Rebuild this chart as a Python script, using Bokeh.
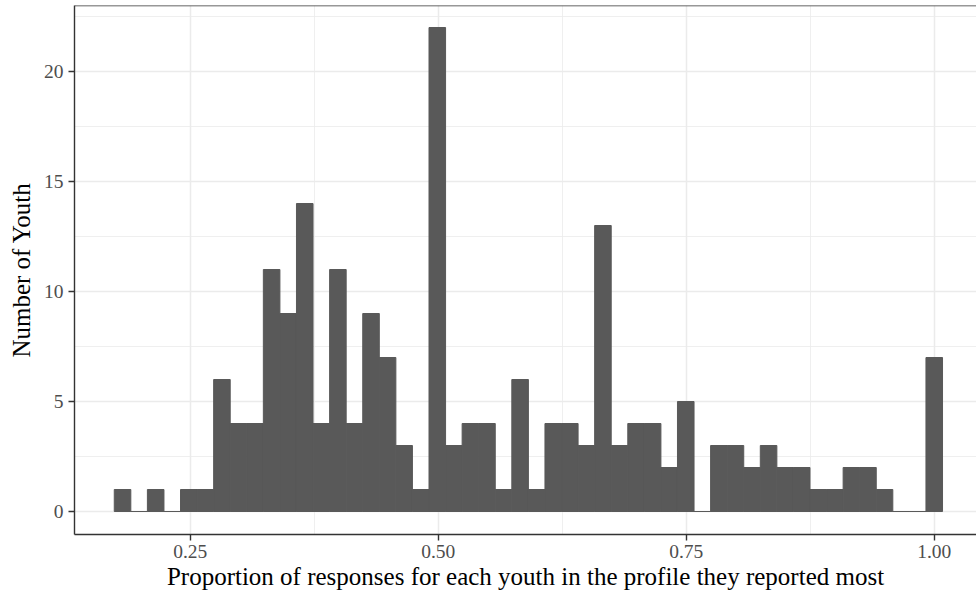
import numpy as np
from bokeh.plotting import figure
from bokeh.models import ColumnDataSource, FixedTicker, Range1d, Span, PrintfTickFormatter
from bokeh.embed import file_html
from bokeh.resources import INLINE

# Histogram data: 50 bins, first bin centred at x_first, last at x_last
x_first = 0.1818
x_last = 1.0
counts = [1, 0, 1, 0, 1, 1, 6, 4, 4, 11,
          9, 14, 4, 11, 4, 9, 7, 3, 1, 22,
          3, 4, 4, 1, 6, 1, 4, 4, 3, 13,
          3, 4, 4, 2, 5, 0, 3, 3, 2, 3,
          2, 2, 1, 1, 2, 2, 1, 0, 0, 7]
x_ticks = [0.25, 0.50, 0.75, 1.00]
x_minor = [0.375, 0.625, 0.875]
y_ticks = [0, 5, 10, 15, 20]
y_minor = [2.5, 7.5, 12.5, 17.5, 22.5]
x_title = "Proportion of responses for each youth in the profile they reported most"
y_title = "Number of Youth"

n = len(counts)
w = (x_last - x_first) / (n - 1)
centers = x_first + w * np.arange(n)
left = centers - w / 2
right = centers + w / 2
cnt = np.array(counts, dtype=float)

src = ColumnDataSource(dict(left=left, right=right, top=cnt, bottom=np.zeros(n)))
zero = cnt == 0
zsrc = ColumnDataSource(dict(x0=left[zero], x1=right[zero], y=np.zeros(zero.sum())))

FONT = "Liberation Serif"
BORDER = "#333333"
GRID = "#EBEBEB"
Y_TOP = 23.0

p = figure(width=976, height=598, output_backend="svg", toolbar_location=None,
           x_range=Range1d(0.13337, 1.0426), y_range=Range1d(-1.045, Y_TOP),
           min_border_left=74, min_border_right=0, min_border_top=5, min_border_bottom=64)
p.outline_line_color = None
p.background_fill_color = "white"
p.border_fill_color = "white"

p.quad(left="left", right="right", top="top", bottom="bottom", source=src,
       fill_color="#595959", line_color="#595959", line_width=1.0)
p.segment(x0="x0", x1="x1", y0="y", y1="y", source=zsrc, line_color="#595959", line_width=0.8)

p.xaxis.ticker = FixedTicker(ticks=x_ticks, minor_ticks=x_minor)
p.yaxis.ticker = FixedTicker(ticks=y_ticks, minor_ticks=y_minor)
p.xaxis.formatter = PrintfTickFormatter(format="%.2f")

for ax in (p.xaxis[0], p.yaxis[0]):
    ax.axis_line_color = BORDER
    ax.axis_line_width = 1.4
    ax.major_tick_line_color = BORDER
    ax.major_tick_line_width = 1.4
    ax.major_tick_in = 0
    ax.major_tick_out = 6
    ax.minor_tick_line_color = None
    ax.major_label_text_font = FONT
    ax.major_label_text_font_size = "19.5px"
    ax.major_label_text_color = "#4D4D4D"
    ax.axis_label_text_font = FONT
    ax.axis_label_text_font_size = "25px"
    ax.axis_label_text_font_style = "normal"
    ax.axis_label_text_color = "black"

p.xaxis.axis_label = x_title
p.yaxis.axis_label = y_title
p.xaxis.major_label_standoff = 4
p.xaxis.axis_label_standoff = 2
p.yaxis.major_label_standoff = 5
p.yaxis.axis_label_standoff = 6

for g in (p.xgrid[0], p.ygrid[0]):
    g.grid_line_color = GRID
    g.grid_line_width = 1.5
    g.minor_grid_line_color = GRID
    g.minor_grid_line_width = 0.8
p.xgrid.ticker = FixedTicker(ticks=x_ticks, minor_ticks=x_minor)
p.ygrid.ticker = FixedTicker(ticks=y_ticks, minor_ticks=y_minor)

top_line = Span(location=Y_TOP, dimension="width", line_color=BORDER, line_width=1.4)
p.add_layout(top_line)

open("out.html", "w").write(file_html(p, INLINE))
